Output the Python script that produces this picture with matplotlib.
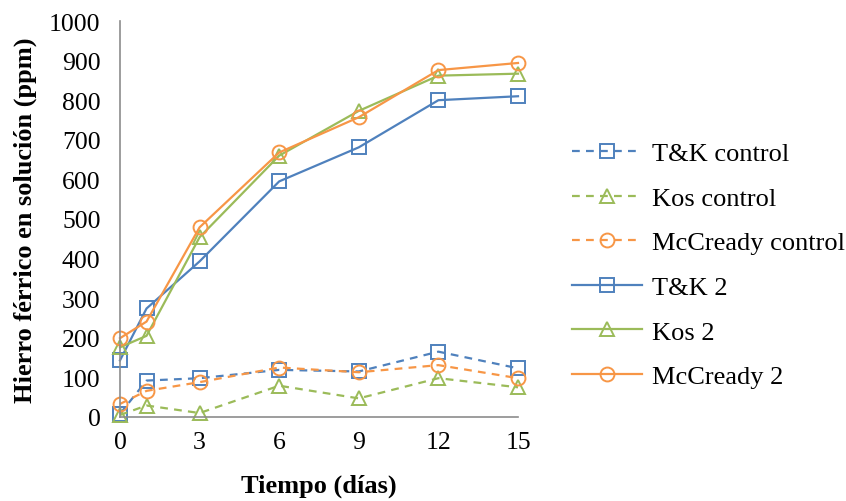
import matplotlib.pyplot as plt

plt.rcParams["font.family"] = ["Liberation Serif", "DejaVu Serif"]

dias = [0, 1, 3, 6, 9, 12, 15]

tk_control = [8, 92, 98, 119, 115, 165, 123]
kos_control = [5, 29, 10, 79, 47, 98, 75]
mccready_control = [33, 66, 88, 125, 113, 131, 98]
tk_2 = [143, 274, 393, 595, 681, 800, 810]
kos_2 = [176, 205, 454, 660, 773, 862, 867]
mccready_2 = [199, 241, 479, 668, 757, 876, 894]

x_ticks = [0, 3, 6, 9, 12, 15]
y_ticks = list(range(0, 1001, 100))

BLUE = "#4F81BD"
GREEN = "#9BBB59"
ORANGE = "#F79646"

series = [
    ("T&K control", tk_control, BLUE, "s", True),
    ("Kos control", kos_control, GREEN, "^", True),
    ("McCready control", mccready_control, ORANGE, "o", True),
    ("T&K 2", tk_2, BLUE, "s", False),
    ("Kos 2", kos_2, GREEN, "^", False),
    ("McCready 2", mccready_2, ORANGE, "o", False),
]

fig = plt.figure(figsize=(8.46, 5.02), dpi=100)
ax = fig.add_axes([120 / 846, 84 / 502, 398 / 846, 396 / 502])

for label, vals, color, marker, dashed in series:
    line, = ax.plot(
        dias, vals, color=color, linewidth=1.6, marker=marker,
        markersize=10 if marker != "^" else 10.5, markerfacecolor="none",
        markeredgecolor=color, markeredgewidth=1.4, label=label,
        clip_on=False,
    )
    if dashed:
        line.set_dashes((3.5, 2.8))

ax.set_xlim(0, 15)
ax.set_ylim(0, 1000)
ax.set_xticks(x_ticks)
ax.set_yticks(y_ticks)
ax.tick_params(axis="both", length=0, labelsize=18.5, pad=10)
ax.tick_params(axis="y", pad=14)

for side in ("top", "right"):
    ax.spines[side].set_visible(False)
for side in ("left", "bottom"):
    ax.spines[side].set_color("#8C8C8C")
    ax.spines[side].set_linewidth(1.2)

ax.set_xlabel("Tiempo (días)", fontsize=19, fontweight="bold", labelpad=15)
ax.set_ylabel("Hierro férrico en solución (ppm)", fontsize=19, fontweight="bold", labelpad=9)

ax.legend(
    loc="center left", bbox_to_anchor=(572 / 846, 1 - 266 / 502),
    bbox_transform=fig.transFigure, frameon=False, fontsize=19,
    handlelength=2.65, handletextpad=0.4, labelspacing=0.8, borderpad=0,
    borderaxespad=0,
)

fig.savefig("out.png", dpi=100)
